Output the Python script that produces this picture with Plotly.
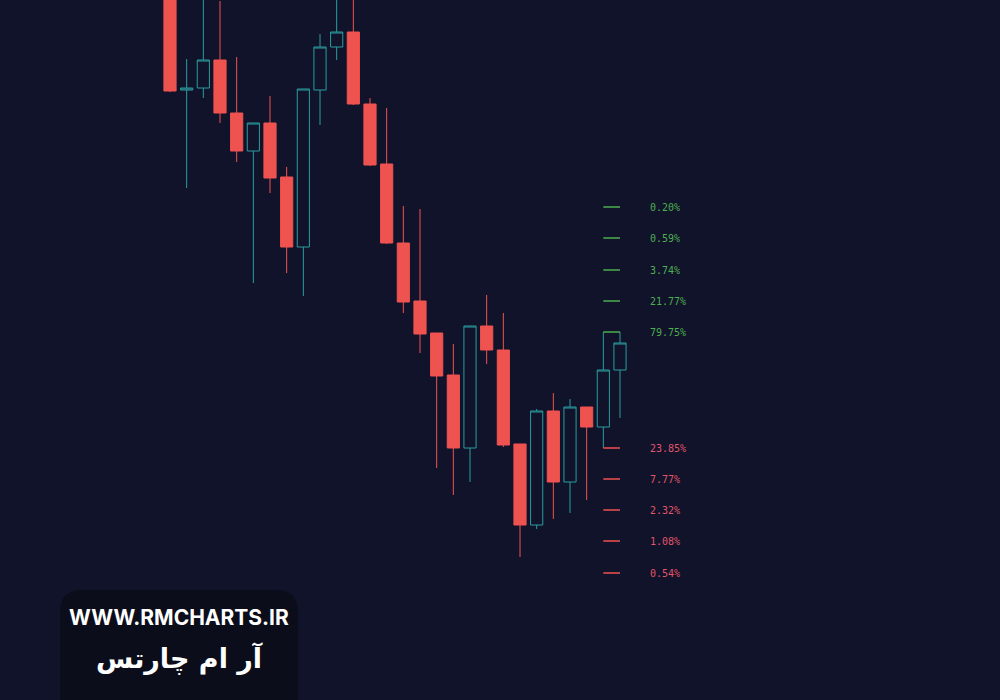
import plotly.graph_objects as go

# ---- data (price units) ----
idx = list(range(28))
opens  = [104.0, 91.0, 91.2, 94.0, 88.7, 84.9, 87.7, 82.3, 75.3, 91.0, 95.3, 96.8, 89.6, 83.6,
          75.7, 69.9, 66.7, 62.5, 55.2, 67.4, 65.0, 55.6, 47.5, 58.9, 51.8, 59.3, 57.3, 63.0]
highs  = [106.0, 94.1, 103.0, 99.9, 94.3, 87.7, 90.4, 83.3, 91.1, 96.6, 102.0, 102.5, 90.2, 89.2,
          79.4, 79.1, 66.7, 65.6, 67.4, 70.5, 68.7, 55.6, 59.1, 60.7, 60.1, 59.3, 66.8, 66.8]
lows   = [90.8, 81.2, 90.2, 87.7, 83.8, 71.7, 80.7, 72.7, 70.4, 87.5, 94.0, 89.5, 83.4, 75.6,
          68.7, 64.7, 53.2, 50.5, 51.8, 63.6, 55.3, 44.3, 47.1, 48.1, 48.7, 50.0, 55.2, 58.2]
closes = [90.9, 91.2, 94.0, 88.7, 84.9, 87.7, 82.2, 75.3, 91.1, 95.3, 96.8, 89.6, 83.5, 75.7,
          69.8, 66.6, 62.4, 55.2, 67.4, 65.0, 55.5, 47.5, 58.9, 51.8, 59.3, 57.3, 63.0, 65.7]

up_levels = [79.3, 76.2, 73.0, 69.9, 66.8]
up_labels = ["0.20%", "0.59%", "3.74%", "21.77%", "79.75%"]
dn_levels = [55.2, 52.1, 49.0, 45.9, 42.7]
dn_labels = ["23.85%", "7.77%", "2.32%", "1.08%", "0.54%"]

level_x0, level_x1, label_x = 26, 27, 28.7

BG = "#11132b"
TEAL = "#2a9d9f"
RED = "#ef5350"
GREEN_LVL = "#4caf50"
RED_TXT = "#e05567"

fig = go.Figure()
fig.add_trace(go.Candlestick(
    x=idx, open=opens, high=highs, low=lows, close=closes,
    increasing=dict(line=dict(color=TEAL, width=1), fillcolor=BG),
    decreasing=dict(line=dict(color=RED, width=1), fillcolor=RED),
    hoverinfo="skip",
))

def level_trace(levels, color):
    xs, ys = [], []
    for lv in levels:
        xs += [level_x0, level_x1, None]
        ys += [lv, lv, None]
    return go.Scatter(x=xs, y=ys, mode="lines", line=dict(color=color, width=1.5),
                      hoverinfo="skip")

fig.add_trace(level_trace(up_levels, GREEN_LVL))
fig.add_trace(level_trace(dn_levels, RED))

for lv, lb in zip(up_levels, up_labels):
    fig.add_annotation(x=label_x, y=lv, text=lb, showarrow=False, xanchor="left", yanchor="middle",
                       font=dict(family="DejaVu Sans Mono", size=10, color=GREEN_LVL))
for lv, lb in zip(dn_levels, dn_labels):
    fig.add_annotation(x=label_x, y=lv, text=lb, showarrow=False, xanchor="left", yanchor="middle",
                       font=dict(family="DejaVu Sans Mono", size=10, color=RED_TXT))

# watermark box (rounded rectangle, paper coords)
x0, x1 = 0.060, 0.298
yt, yb = 1 - 590 / 700, -0.05
rx, ry = 22 / 1000, 22 / 700
path = (f"M {x0},{yb} L {x0},{yt - ry} Q {x0},{yt} {x0 + rx},{yt} "
        f"L {x1 - rx},{yt} Q {x1},{yt} {x1},{yt - ry} L {x1},{yb} Z")
fig.add_shape(type="path", xref="paper", yref="paper", path=path,
              fillcolor="#0c0d1a", line=dict(width=0), layer="above")
fig.add_annotation(xref="paper", yref="paper", x=0.179, y=1 - 617 / 700, text="<b>WWW.RMCHARTS.IR</b>",
                   showarrow=False, xanchor="center", yanchor="middle",
                   font=dict(family="Inter", size=21, color="#ffffff"))
fig.add_annotation(xref="paper", yref="paper", x=0.179, y=1 - 658 / 700, text="<b>آر ام چارتس</b>",
                   showarrow=False, xanchor="center", yanchor="middle",
                   font=dict(family="DejaVu Sans", size=27, color="#ffffff"))

fig.update_layout(
    width=1000, height=700,
    margin=dict(l=0, r=0, t=0, b=0),
    paper_bgcolor=BG, plot_bgcolor=BG,
    showlegend=False, hovermode=False,
    boxgap=0.27, boxgroupgap=0,
    xaxis=dict(range=[-10.2, 49.8], visible=False, rangeslider=dict(visible=False)),
    yaxis=dict(range=[30, 100], visible=False),
)

fig.write_html("out.html", config={"displayModeBar": False},
               post_script="document.body.style.margin='0';document.body.style.background='#11132b';")
